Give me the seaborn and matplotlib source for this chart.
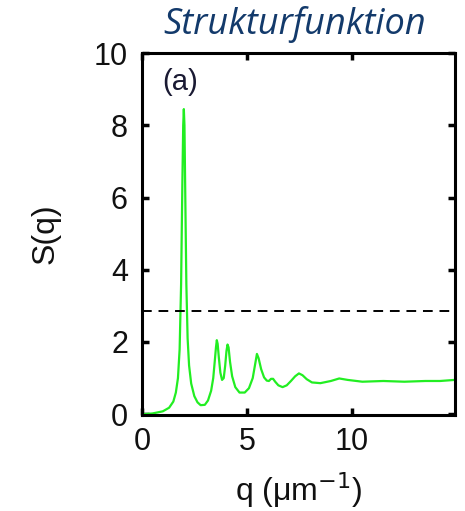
import matplotlib
matplotlib.use("Agg")
import matplotlib.pyplot as plt
import seaborn as sns
import pandas as pd

q_values = [0.0, 0.5, 1.0, 1.3, 1.5, 1.62, 1.72, 1.8, 1.87, 1.93, 1.97, 2.0, 2.03, 2.07, 2.12,
            2.18, 2.25, 2.35, 2.5, 2.65, 2.8, 3.0, 3.15, 3.3, 3.4, 3.47, 3.53, 3.57, 3.61, 3.67,
            3.74, 3.82, 3.9, 3.97, 4.03, 4.08, 4.13, 4.2, 4.3, 4.45, 4.65, 4.9, 5.1, 5.28, 5.4,
            5.48, 5.56, 5.68, 5.82, 5.95, 6.05, 6.15, 6.25, 6.35, 6.5, 6.7, 6.9, 7.1, 7.3, 7.48,
            7.65, 7.85, 8.1, 8.5, 9.0, 9.4, 9.8, 10.5, 11.5, 12.5, 13.5, 14.2, 14.9]
s_values = [0.0, 0.02, 0.08, 0.18, 0.35, 0.6, 1.0, 1.8, 3.6, 6.4, 8.0, 8.45, 8.0, 6.0, 3.6,
            2.1, 1.35, 0.85, 0.5, 0.33, 0.25, 0.26, 0.38, 0.65, 1.0, 1.45, 1.85, 2.05, 1.95, 1.55,
            1.15, 0.95, 1.0, 1.35, 1.75, 1.93, 1.85, 1.45, 1.05, 0.75, 0.6, 0.6, 0.72, 1.0, 1.4,
            1.67, 1.55, 1.25, 1.02, 0.93, 0.92, 0.98, 0.98, 0.9, 0.8, 0.75, 0.8, 0.92, 1.05, 1.13,
            1.08, 0.97, 0.88, 0.86, 0.92, 0.99, 0.95, 0.9, 0.92, 0.9, 0.92, 0.92, 0.95]
threshold = 2.85
x_ticks = [0, 5, 10]
y_ticks = [0, 2, 4, 6, 8, 10]

sns.set_theme(style="white")
plt.rcParams['font.family'] = ['Liberation Sans', 'DejaVu Sans']

df = pd.DataFrame({"q": q_values, "S": s_values})

fig = plt.figure(figsize=(4.65, 5.11), dpi=100)
ax = fig.add_axes([0.305, 0.188, 0.673, 0.708])
sns.lineplot(data=df, x="q", y="S", ax=ax, color="#22ee22", linewidth=1.6)
ax.axhline(threshold, color="black", linestyle=(0, (5, 3.5)), linewidth=1.4)

ax.set_xlim(0, 14.9)
ax.set_ylim(-0.02, 10)
ax.set_xticks(x_ticks)
ax.set_yticks(y_ticks)
ax.tick_params(direction="in", length=5, width=2.5, colors="black", labelsize=22,
               top=True, right=True, bottom=True, left=True, labelcolor="#111111")
ax.tick_params(axis="y", pad=10)
ax.tick_params(axis="x", pad=9)
for sp in ax.spines.values():
    sp.set_color("black")
    sp.set_linewidth(2.2)

ax.set_xlabel("q (μm$^{-1}$)", fontsize=23, color="#111111", labelpad=9)
ax.set_ylabel("S(q)", fontsize=23, color="#111111", labelpad=24)
ax.text(0.065, 0.96, "(a)", transform=ax.transAxes, fontsize=21, color="#1a1a33",
        va="top", ha="left")

fig.text(0.633, 0.952, "Strukturfunktion", fontsize=26, style="italic",
         family=["Open Sans", "DejaVu Sans"], color="#133a6b", ha="center", va="center")

fig.savefig("out.png", dpi=100)
